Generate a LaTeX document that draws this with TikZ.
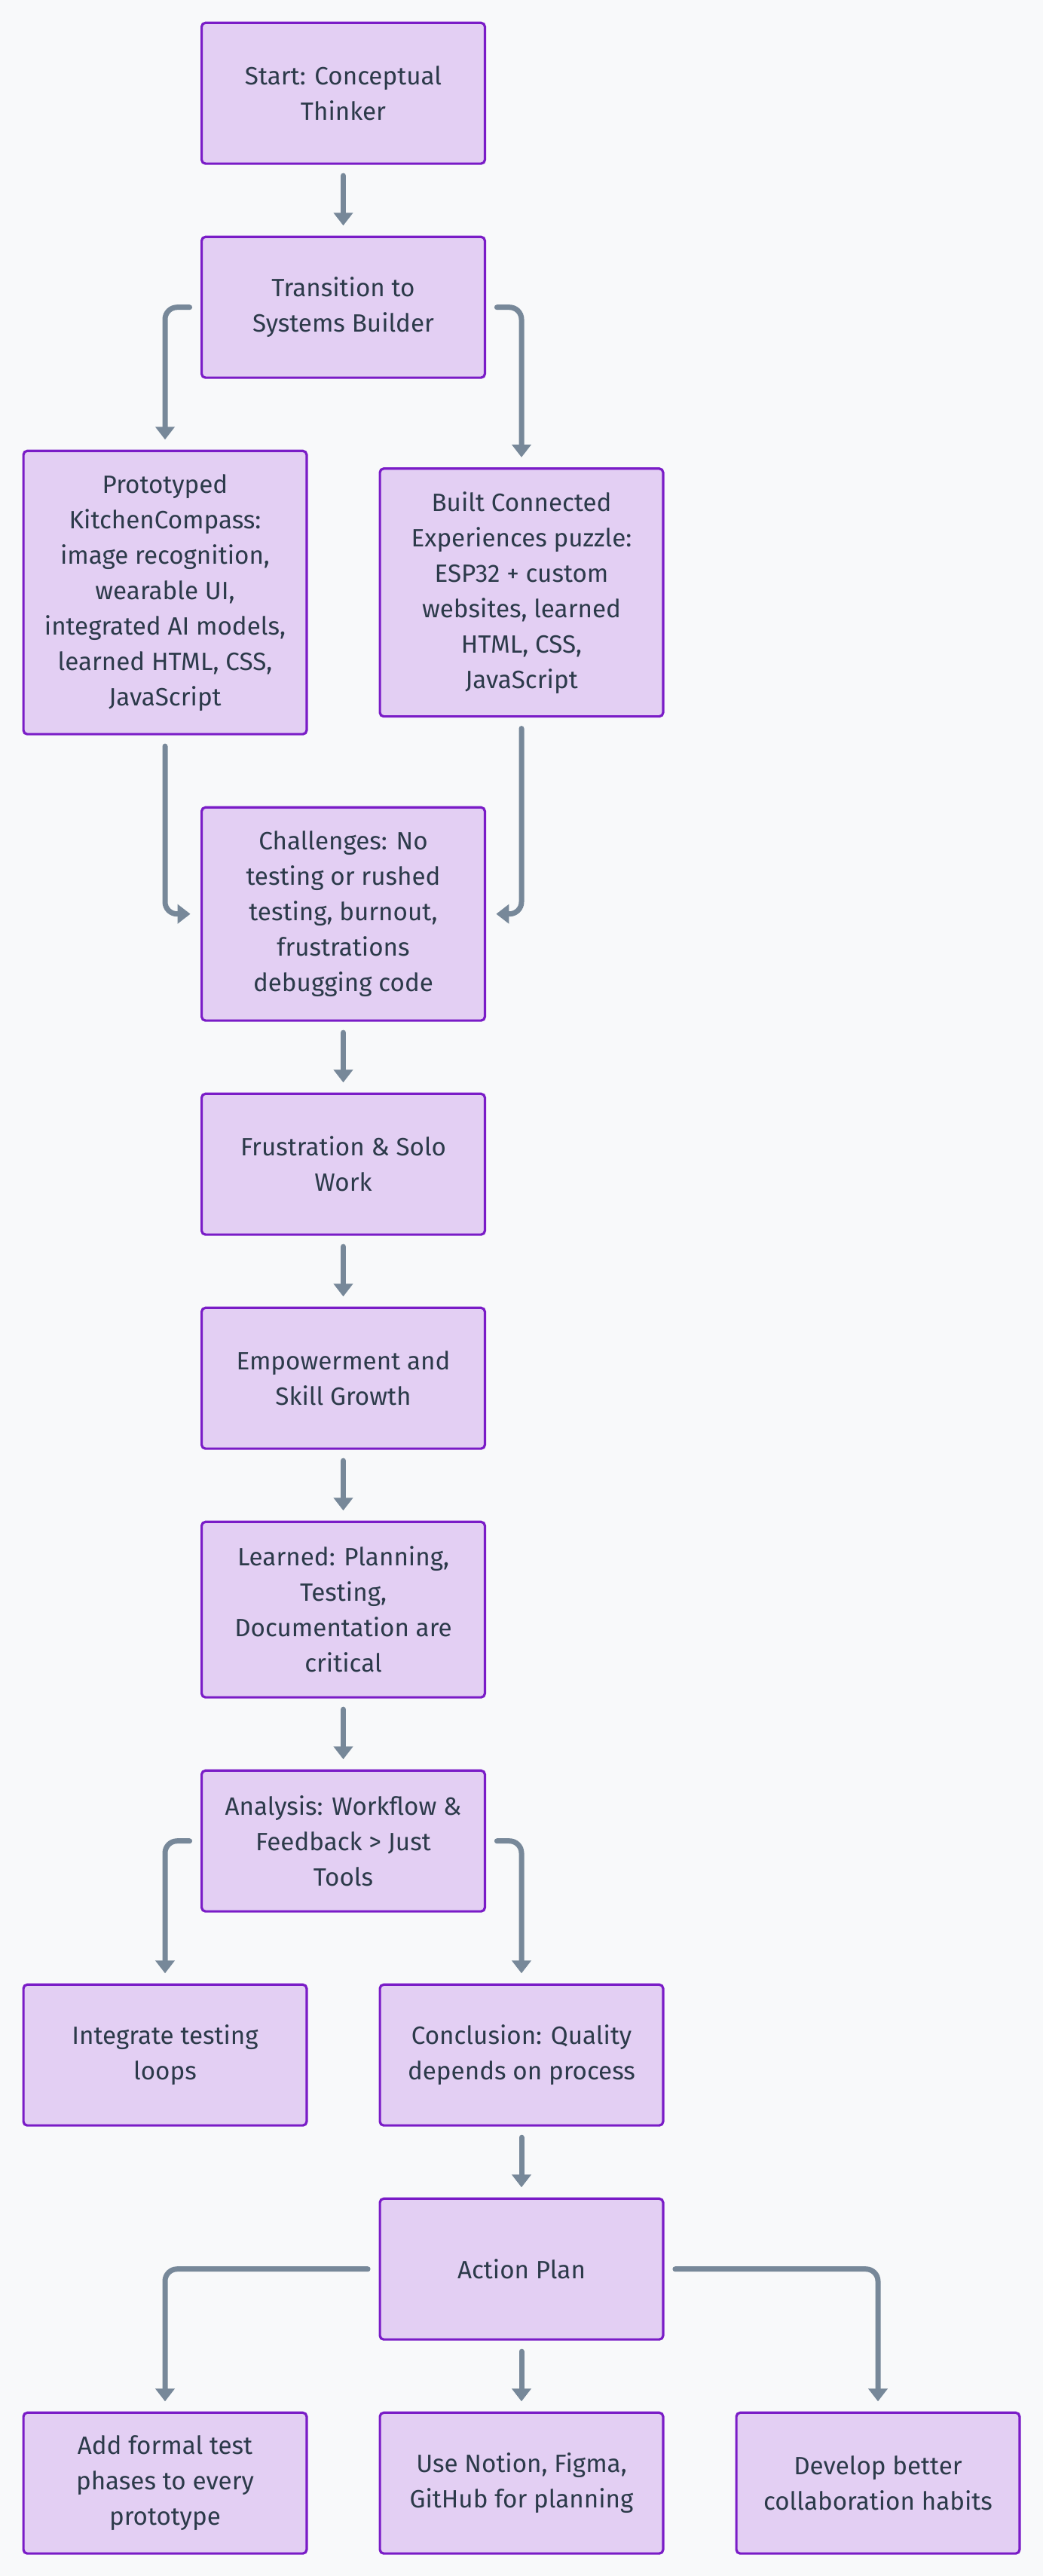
\documentclass[tikz,border=0pt]{standalone}
\usepackage{fontspec}
\setmainfont{Fira Sans}
\usepackage{tikz}
\usetikzlibrary{positioning}
\usetikzlibrary{arrows.meta}
\usetikzlibrary{calc}
\definecolor{pagebg}{HTML}{F8F9FA}
\definecolor{nodefill}{HTML}{E3CFF3}
\definecolor{nodeline}{HTML}{7A1CC7}
\definecolor{nodetext}{HTML}{2C3A4A}
\definecolor{flowgray}{HTML}{778899}
\newcommand{\stagefont}{\fontsize{16.6pt}{23.5pt}\selectfont}
\tikzset{
	stage/.style={draw=nodeline, fill=nodefill, line width=1.6pt, outer sep=0pt, rounded corners=2.5pt, minimum width=187.9pt, minimum height=93.4pt, align=center, text=nodetext, font=\stagefont},
	flow/.style={draw=flowgray, line width=3.5pt, line cap=round, rounded corners=8pt, shorten <=8pt, shorten >=7.5pt, -{Triangle[length=8.5pt,width=12.5pt]}}
}
\begin{document}
\begin{tikzpicture}[node distance=48.6pt]
			\fill[pagebg] (0,0) rectangle (692pt,-1709pt);
			\useasboundingbox (0,0) rectangle (692pt,-1709pt);

			\node[stage] (start) at (227.75pt,-61.85pt) {Start: Conceptual\\Thinker};
			\node[stage, below=of start] (trans) {Transition to\\Systems Builder};
			\node[stage, minimum height=187.9pt, below=of trans, xshift=-118.25pt] (proto) {Prototyped\\KitchenCompass:\\image recognition,\\wearable UI,\\integrated AI models,\\learned HTML, CSS,\\JavaScript};
			\node[stage, minimum height=164.4pt, right=of proto] (built) {Built Connected\\Experiences puzzle:\\ESP32 + custom\\websites, learned\\HTML, CSS,\\JavaScript};
			\node[stage, minimum height=141.4pt, below=of proto, xshift=118.25pt] (chall) {Challenges: No\\testing or rushed\\testing, burnout,\\frustrations\\debugging code};
			\node[stage, below=of chall] (frust) {Frustration \& Solo\\Work};
			\node[stage, below=of frust] (empow) {Empowerment and\\Skill Growth};
			\node[stage, minimum height=116.4pt, below=of empow] (learned) {Learned: Planning,\\Testing,\\Documentation are\\critical};
			\node[stage, below=of learned] (analysis) {Analysis: Workflow \&\\Feedback > Just\\Tools};
			\node[stage, below=of analysis, xshift=-118.25pt] (integrate) {Integrate testing\\loops};
			\node[stage, right=of integrate] (concl) {Conclusion: Quality\\depends on process};
			\node[stage, below=of concl] (action) {Action Plan};
			\node[stage, below=of action] (tools) {Use Notion, Figma,\\GitHub for planning};
			\node[stage, left=of tools] (phases) {Add formal test\\phases to every\\prototype};
			\node[stage, right=of tools] (habits) {Develop better\\collaboration habits};

			\draw[flow] (start) -- (trans);
			\draw[flow] (trans) -| (proto);
			\draw[flow] (trans) -| (built);
			\draw[flow] (proto) |- (chall);
			\draw[flow] (built) |- (chall);
			\draw[flow] (chall) -- (frust);
			\draw[flow] (frust) -- (empow);
			\draw[flow] (empow) -- (learned);
			\draw[flow] (learned) -- (analysis);
			\draw[flow] (analysis) -| (integrate);
			\draw[flow] (analysis) -| (concl);
			\draw[flow] (concl) -- (action);
			\draw[flow] (action) -| (phases);
			\draw[flow] (action) -- (tools);
			\draw[flow] (action) -| (habits);
		\end{tikzpicture}
\end{document}
